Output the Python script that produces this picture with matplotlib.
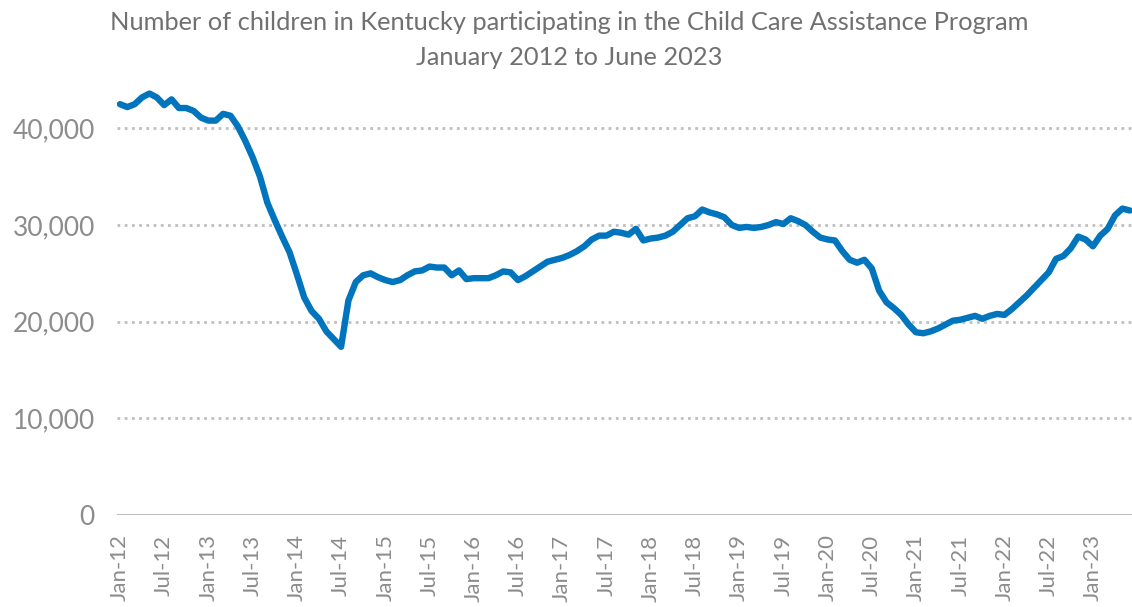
import matplotlib
matplotlib.use("Agg")
import matplotlib.pyplot as plt
from matplotlib.ticker import FuncFormatter

plt.rcParams['font.family'] = ['Lato', 'DejaVu Sans']

# Monthly enrollment, January 2012 through June 2023 (thousands of children)
children_k = [
    42.5, 42.2, 42.5, 43.2, 43.6, 43.2, 42.4, 43.0, 42.1, 42.1, 41.8, 41.1,   # 2012
    40.8, 40.8, 41.5, 41.3, 40.2, 38.7, 37.0, 35.0, 32.3, 30.5, 28.8, 27.2,   # 2013
    24.9, 22.5, 21.1, 20.3, 19.0, 18.2, 17.4, 22.2, 24.1, 24.8, 25.0, 24.6,   # 2014
    24.3, 24.1, 24.3, 24.8, 25.2, 25.3, 25.7, 25.6, 25.6, 24.8, 25.3, 24.4,   # 2015
    24.5, 24.5, 24.5, 24.8, 25.2, 25.1, 24.3, 24.7, 25.2, 25.7, 26.2, 26.4,   # 2016
    26.6, 26.9, 27.3, 27.8, 28.5, 28.9, 28.9, 29.3, 29.2, 29.0, 29.6, 28.4,   # 2017
    28.6, 28.7, 28.9, 29.3, 30.0, 30.7, 30.9, 31.6, 31.3, 31.1, 30.8, 30.0,   # 2018
    29.7, 29.8, 29.7, 29.8, 30.0, 30.3, 30.1, 30.7, 30.4, 30.0, 29.3, 28.7,   # 2019
    28.5, 28.4, 27.3, 26.4, 26.1, 26.4, 25.5, 23.2, 22.0, 21.4, 20.7, 19.7,   # 2020
    18.9, 18.8, 19.0, 19.3, 19.7, 20.1, 20.2, 20.4, 20.6, 20.3, 20.6, 20.8,   # 2021
    20.7, 21.3, 22.0, 22.7, 23.5, 24.3, 25.1, 26.5, 26.8, 27.6, 28.8, 28.5,   # 2022
    27.8, 28.9, 29.6, 31.0, 31.7, 31.5,                                       # 2023
]
children = [v * 1000 for v in children_k]

tick_labels = [
    "Jan-12", "Jul-12", "Jan-13", "Jul-13", "Jan-14", "Jul-14", "Jan-15",
    "Jul-15", "Jan-16", "Jul-16", "Jan-17", "Jul-17", "Jan-18", "Jul-18",
    "Jan-19", "Jul-19", "Jan-20", "Jul-20", "Jan-21", "Jul-21", "Jan-22",
    "Jul-22", "Jan-23",
]
y_ticks = [0, 10000, 20000, 30000, 40000]

title = ("Number of children in Kentucky participating in the Child Care Assistance Program\n"
         "January 2012 to June 2023")

line_color = "#0074BD"
grid_color = "#BFBFBF"
text_color = "#8C8C8C"

fig = plt.figure(figsize=(11.32, 6.07), dpi=100)
ax = fig.add_axes([117 / 1132, 1 - 515 / 607, (1132 - 117) / 1132, (515 - 80) / 607])

months = list(range(len(children)))
ax.plot(months, children, color=line_color, linewidth=4.6, solid_capstyle="round",
        solid_joinstyle="round", zorder=3)

ax.set_xlim(-0.4, 137.3)
ax.set_ylim(0, 45000)

ax.set_yticks(y_ticks)
ax.yaxis.set_major_formatter(FuncFormatter(lambda v, p: f"{int(v):,}"))
for yv in y_ticks[1:]:
    ax.axhline(yv, color=grid_color, linewidth=2.0, linestyle=(0, (1.0, 1.6)), zorder=1)
ax.axhline(0, color=grid_color, linewidth=2.2, zorder=2)

ax.set_xticks([6 * i for i in range(len(tick_labels))])
ax.set_xticklabels(tick_labels, rotation=90)

for s in ax.spines.values():
    s.set_visible(False)
ax.tick_params(axis="both", length=0, colors=text_color)
ax.tick_params(axis="y", labelsize=19, pad=16)
ax.tick_params(axis="x", labelsize=16, pad=14)

fig.text(0.503, 0.982, title, ha="center", va="top", fontsize=18.3, color="#707070",
         linespacing=1.65)

fig.savefig("out.png", dpi=100)
